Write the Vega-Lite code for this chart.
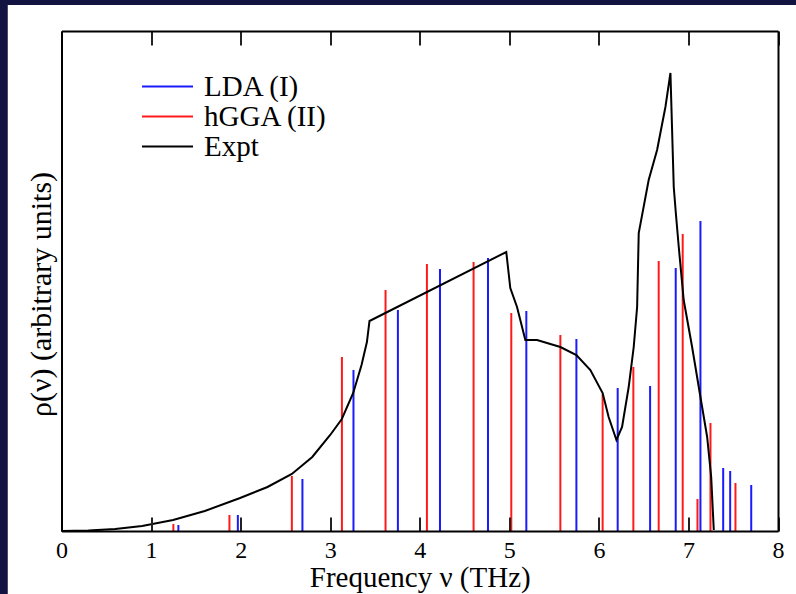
{
  "$schema": "https://vega.github.io/schema/vega-lite/v6.json",
  "autosize": {"type": "none"},
  "width": 716.5,
  "height": 500,
  "padding": {"left": 61.5, "top": 31, "right": 18, "bottom": 63},
  "background": "#131341",
  "datasets": {
    "bars": [
      {"f": 1.249, "h": 7, "series": "hGGA (II)"},
      {"f": 1.305, "h": 6, "series": "LDA (I)"},
      {"f": 1.875, "h": 16, "series": "hGGA (II)"},
      {"f": 1.969, "h": 16, "series": "LDA (I)"},
      {"f": 2.572, "h": 55, "series": "hGGA (II)"},
      {"f": 2.690, "h": 52, "series": "LDA (I)"},
      {"f": 3.131, "h": 174, "series": "hGGA (II)"},
      {"f": 3.260, "h": 161, "series": "LDA (I)"},
      {"f": 3.618, "h": 241, "series": "hGGA (II)"},
      {"f": 3.756, "h": 221, "series": "LDA (I)"},
      {"f": 4.080, "h": 267, "series": "hGGA (II)"},
      {"f": 4.226, "h": 262, "series": "LDA (I)"},
      {"f": 4.601, "h": 269, "series": "hGGA (II)"},
      {"f": 4.762, "h": 273, "series": "LDA (I)"},
      {"f": 5.022, "h": 218, "series": "hGGA (II)"},
      {"f": 5.190, "h": 220, "series": "LDA (I)"},
      {"f": 5.570, "h": 196, "series": "hGGA (II)"},
      {"f": 5.749, "h": 192, "series": "LDA (I)"},
      {"f": 6.042, "h": 137, "series": "hGGA (II)"},
      {"f": 6.210, "h": 143, "series": "LDA (I)"},
      {"f": 6.385, "h": 164, "series": "hGGA (II)"},
      {"f": 6.572, "h": 145, "series": "LDA (I)"},
      {"f": 6.668, "h": 270, "series": "hGGA (II)"},
      {"f": 6.858, "h": 263, "series": "LDA (I)"},
      {"f": 6.936, "h": 297, "series": "hGGA (II)"},
      {"f": 7.101, "h": 32, "series": "hGGA (II)"},
      {"f": 7.134, "h": 310, "series": "LDA (I)"},
      {"f": 7.246, "h": 108, "series": "hGGA (II)"},
      {"f": 7.388, "h": 63, "series": "LDA (I)"},
      {"f": 7.466, "h": 60, "series": "LDA (I)"},
      {"f": 7.525, "h": 48, "series": "hGGA (II)"},
      {"f": 7.701, "h": 46, "series": "LDA (I)"}
    ],
    "expt": [
      {"f": 0.0, "h": 0, "series": "Expt"},
      {"f": 0.3, "h": 0.4, "series": "Expt"},
      {"f": 0.6, "h": 2, "series": "Expt"},
      {"f": 0.9, "h": 5, "series": "Expt"},
      {"f": 1.246, "h": 11, "series": "Expt"},
      {"f": 1.6, "h": 20, "series": "Expt"},
      {"f": 1.994, "h": 33, "series": "Expt"},
      {"f": 2.3, "h": 44, "series": "Expt"},
      {"f": 2.572, "h": 57, "series": "Expt"},
      {"f": 2.8, "h": 74, "series": "Expt"},
      {"f": 3.0, "h": 96, "series": "Expt"},
      {"f": 3.13, "h": 112, "series": "Expt"},
      {"f": 3.257, "h": 138, "series": "Expt"},
      {"f": 3.35, "h": 166, "series": "Expt"},
      {"f": 3.41, "h": 189, "series": "Expt"},
      {"f": 3.439, "h": 210, "series": "Expt"},
      {"f": 4.966, "h": 279, "series": "Expt"},
      {"f": 5.011, "h": 243, "series": "Expt"},
      {"f": 5.086, "h": 224, "series": "Expt"},
      {"f": 5.179, "h": 191, "series": "Expt"},
      {"f": 5.31, "h": 191, "series": "Expt"},
      {"f": 5.458, "h": 187, "series": "Expt"},
      {"f": 5.57, "h": 184, "series": "Expt"},
      {"f": 5.749, "h": 176, "series": "Expt"},
      {"f": 5.905, "h": 161, "series": "Expt"},
      {"f": 6.042, "h": 138, "series": "Expt"},
      {"f": 6.109, "h": 114, "series": "Expt"},
      {"f": 6.196, "h": 91, "series": "Expt"},
      {"f": 6.259, "h": 104, "series": "Expt"},
      {"f": 6.333, "h": 144, "series": "Expt"},
      {"f": 6.389, "h": 184, "series": "Expt"},
      {"f": 6.427, "h": 224, "series": "Expt"},
      {"f": 6.445, "h": 298, "series": "Expt"},
      {"f": 6.556, "h": 351, "series": "Expt"},
      {"f": 6.65, "h": 381, "series": "Expt"},
      {"f": 6.743, "h": 424, "series": "Expt"},
      {"f": 6.799, "h": 458, "series": "Expt"},
      {"f": 6.836, "h": 344, "series": "Expt"},
      {"f": 6.863, "h": 314, "series": "Expt"},
      {"f": 6.892, "h": 284, "series": "Expt"},
      {"f": 6.947, "h": 231, "series": "Expt"},
      {"f": 7.041, "h": 184, "series": "Expt"},
      {"f": 7.134, "h": 134, "series": "Expt"},
      {"f": 7.209, "h": 94, "series": "Expt"},
      {"f": 7.254, "h": 54, "series": "Expt"},
      {"f": 7.283, "h": 1, "series": "Expt"}
    ]
  },
  "config": {
    "view": {"stroke": null},
    "font": "Liberation Serif"
  },
  "resolve": {"axis": {"x": "independent", "y": "independent"}},
  "layer": [
    {
      "data": {"values": [{"panel": "page"}]},
      "mark": {"type": "rect", "fill": "white", "clip": false},
      "encoding": {
        "x": {"datum": -0.6, "type": "quantitative", "scale": {"domain": [0, 8], "nice": false, "zero": false}, "axis": null},
        "x2": {"datum": 8.3},
        "y": {"datum": 526, "type": "quantitative", "scale": {"domain": [0, 500], "nice": false}, "axis": null},
        "y2": {"datum": -80}
      }
    },
    {
      "data": {"name": "bars"},
      "mark": {"type": "rule", "strokeWidth": 2},
      "encoding": {
        "x": {
          "field": "f", "type": "quantitative",
          "axis": {
            "orient": "bottom", "values": [0, 1, 2, 3, 4, 5, 6, 7, 8], "format": "d",
            "grid": false, "labelFlush": false, "tickSize": -14, "tickColor": "#222", "tickWidth": 2,
            "domainColor": "#000", "domainWidth": 2,
            "labelFont": "Liberation Serif", "labelFontSize": 24, "labelColor": "#000",
            "labelBaseline": "alphabetic", "labelPadding": 40,
            "title": "Frequency ν (THz)", "titleFont": "Liberation Serif", "titleFontSize": 29,
            "titleFontWeight": "normal", "titleColor": "#000", "titleBaseline": "alphabetic", "titleY": 55,
            "zindex": 1
          }
        },
        "y": {
          "field": "h", "type": "quantitative",
          "axis": {
            "orient": "left", "ticks": false, "labels": false, "grid": false,
            "domainColor": "#000", "domainWidth": 2,
            "title": "ρ(ν) (arbitrary units)", "titleFont": "Liberation Serif", "titleFontSize": 30,
            "titleFontWeight": "normal", "titleColor": "#000", "titleBaseline": "alphabetic",
            "titleAlign": "center", "titleX": -11.5, "titleY": 263, "titleAngle": -90,
            "zindex": 1
          }
        },
        "y2": {"datum": 0},
        "color": {
          "field": "series", "type": "nominal",
          "scale": {"domain": ["LDA (I)", "hGGA (II)", "Expt"], "range": ["#1a1aff", "#ff1a1a", "#000000"]},
          "legend": {
            "orient": "none", "legendX": 91.5, "legendY": 41, "title": null, "padding": 0,
            "symbolType": "M-3,0H3", "symbolSize": 289, "symbolStrokeWidth": 2,
            "labelFont": "Liberation Serif", "labelFontSize": 29, "labelColor": "#000",
            "labelOffset": 22, "rowPadding": 0, "zindex": 1
          }
        }
      }
    },
    {
      "data": {"name": "expt"},
      "mark": {"type": "line", "strokeWidth": 2},
      "encoding": {
        "x": {
          "field": "f", "type": "quantitative",
          "axis": {
            "orient": "top", "values": [0, 1, 2, 3, 4, 5, 6, 7, 8], "labels": false, "grid": false,
            "tickSize": -14, "tickColor": "#222", "tickWidth": 2,
            "domainColor": "#000", "domainWidth": 2, "title": null, "zindex": 1
          }
        },
        "y": {
          "field": "h", "type": "quantitative",
          "axis": {
            "orient": "right", "ticks": false, "labels": false, "grid": false,
            "domainColor": "#000", "domainWidth": 2, "title": null, "zindex": 1
          }
        },
        "color": {"field": "series", "type": "nominal"}
      }
    }
  ]
}
